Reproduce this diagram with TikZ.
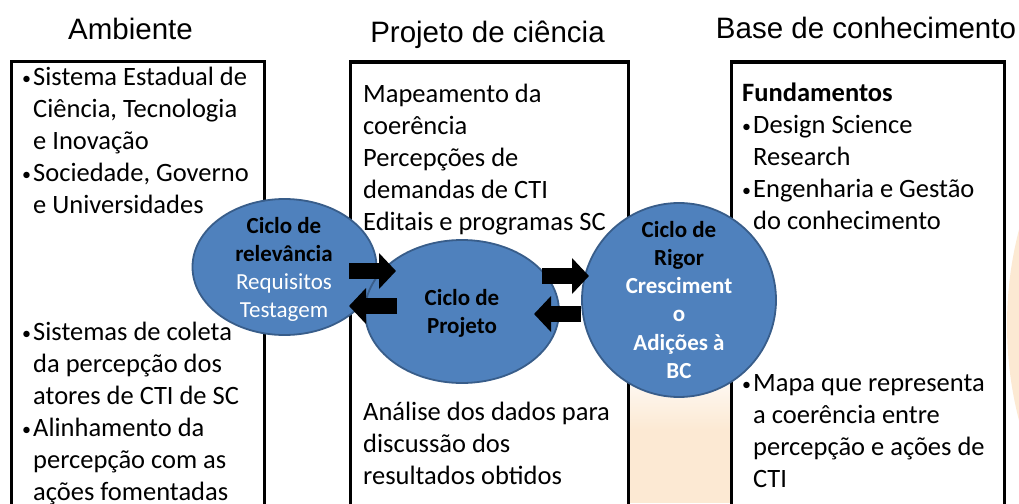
\documentclass[tikz,border=0pt]{standalone}
\usepackage{fontspec}
\setmainfont{Carlito}
\newfontfamily\titlefont{Liberation Sans}
\usetikzlibrary{arrows.meta,shapes.geometric}
\definecolor{peach}{RGB}{252,233,211}
\definecolor{cycfill}{HTML}{4F81BD}
\definecolor{cycline}{HTML}{385D8A}
\newcommand{\bul}{\makebox[0pt][r]{\raisebox{1pt}{\fontsize{18}{18}\selectfont •}\hspace{2pt}}}
\begin{document}
\begin{tikzpicture}[x=1pt,y=-1pt,
 title/.style={font=\titlefont\fontsize{29.5}{34}\selectfont, anchor=base, inner sep=0},
 body/.style={font=\fontsize{26.5}{32}\selectfont, anchor=base west, inner sep=0},
 panel/.style={draw=black, line width=3pt, fill=white},
 cyc/.style={draw=cycline, line width=1.8pt, fill=cycfill, inner sep=0},
 ctext/.style={font=\fontsize{23}{28.3}\selectfont, anchor=base, inner sep=0},
 blockarrow/.style={draw=black, line width=16pt, -{Triangle[width=35pt,length=17pt]}}]
\useasboundingbox (0,0) rectangle (1019,503);
\clip (0,0) rectangle (1019,503);
\fill[white] (0,0) rectangle (1019,503);
% background peach shapes
\fill[peach] (1389,325) circle (382);
\shade[top color=white, bottom color=peach] (628,360) rectangle (731,430);
\fill[peach] (628,429.5) rectangle (731,503);
% titles
\node[title] (t1) at (130.5,40) {Ambiente};
\node[title] (t2) at (487.5,42) {Projeto de ciência};
\node[title] (t3) at (866,39) {Base de conhecimento};
% panels
\draw[panel] (11.5,61.5) rectangle (264,540);
\draw[panel] (350,62) rectangle (628,540);
\draw[panel] (731.5,62) rectangle (1004,540);
% left panel text
\node[body] (amb1) at (33,85) {\parbox[t]{300pt}{\raggedright\bul Sistema Estadual de\\Ciência, Tecnologia\\e Inovação\\\bul Sociedade, Governo\\e Universidades}};
\node[body] (amb2) at (33,340) {\parbox[t]{300pt}{\raggedright\bul Sistemas de coleta\\da percepção dos\\atores de CTI de SC\\\bul Alinhamento da\\percepção com as\\ações fomentadas}};
% middle panel text
\node[body] (pro1) at (363,102) {\parbox[t]{300pt}{\raggedright Mapeamento da\\coerência\\Percepções de\\demandas de CTI\\Editais e programas SC}};
\node[body] (pro2) at (363,420) {\parbox[t]{300pt}{\raggedright Análise dos dados para\\discussão dos\\resultados obtidos}};
% right panel text
\node[body] (bas1) at (742,101) {\parbox[t]{300pt}{\raggedright\textbf{Fundamentos}\\\hspace*{11pt}\bul Design Science\\\hspace*{11pt}Research\\\hspace*{11pt}\bul Engenharia e Gestão\\\hspace*{11pt}do conhecimento}};
\node[body] (bas2) at (753,391) {\parbox[t]{300pt}{\raggedright\bul Mapa que representa\\a coerência entre\\percepção e ações de\\CTI}};
% cycles
\node[cyc, ellipse, minimum width=184pt, minimum height=136pt] (rel) at (284.5,267) {};
\node[ctext] (reltxt) at (284,233) {\parbox[t]{180pt}{\centering\textbf{Ciclo de}\\\textbf{relevância}\\\color{white}Requisitos\\Testagem}};
\node[cyc, ellipse, minimum width=194pt, minimum height=143pt] (proj) at (462,311.5) {};
\node[ctext] (projtxt) at (462,305) {\parbox[t]{180pt}{\centering\bfseries Ciclo de\\Projeto}};
\node[cyc, circle, minimum size=194pt] (rig) at (679,300) {};
\node[ctext] (rigtxt) at (679,237) {\parbox[t]{180pt}{\centering\bfseries Ciclo de\\Rigor\\\color{white}Cresciment\\o\\Adições à\\BC}};
% block arrows
\coordinate (a1s) at (349,271); \coordinate (a1e) at (396,271);
\coordinate (a2s) at (397,306); \coordinate (a2e) at (349,306);
\coordinate (a3s) at (542,276); \coordinate (a3e) at (589,276);
\coordinate (a4s) at (581,314); \coordinate (a4e) at (534,314);
\draw[blockarrow] (a1s) -- (a1e);
\draw[blockarrow] (a2s) -- (a2e);
\draw[blockarrow] (a3s) -- (a3e);
\draw[blockarrow] (a4s) -- (a4e);
\end{tikzpicture}
\end{document}
